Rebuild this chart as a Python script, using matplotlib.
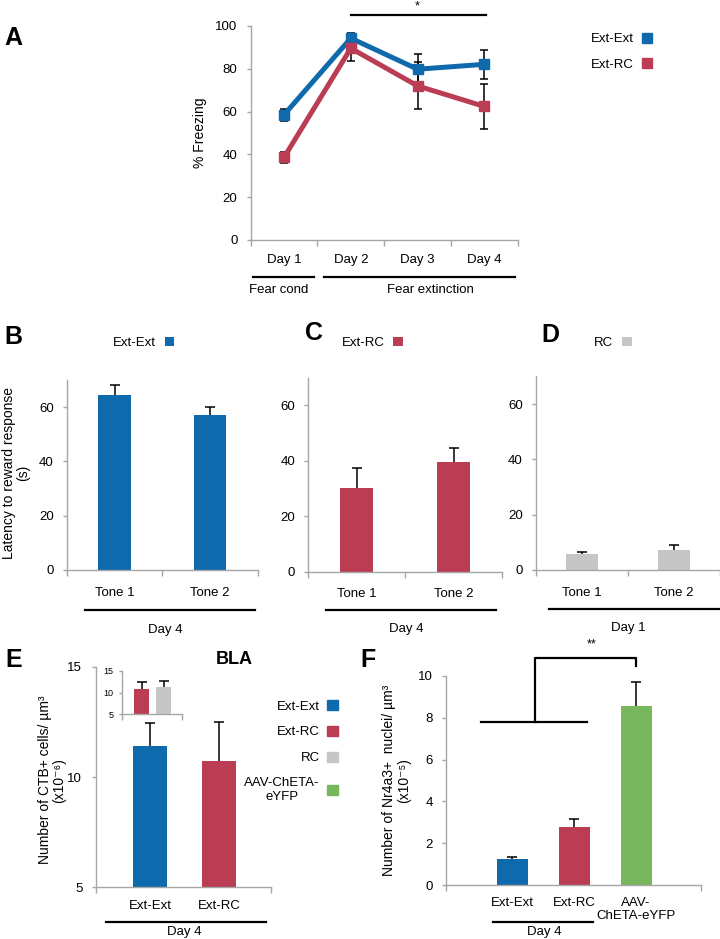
import matplotlib
matplotlib.use("Agg")
import matplotlib.pyplot as plt
import matplotlib.transforms as mtransforms
from matplotlib.lines import Line2D
from matplotlib.patches import Patch
import numpy as np

# ---- data ----
days = ["Day 1", "Day 2", "Day 3", "Day 4"]
frz_extext = [58.5, 94.3, 79.8, 82.1]
frz_extext_err = [2.7, 2.6, 7.0, 6.8]
frz_extrc = [38.6, 89.6, 72.0, 62.4]
frz_extrc_err = [2.6, 5.8, 11.0, 10.4]

tones = ["Tone 1", "Tone 2"]
lat_extext = [64.6, 57.1]
lat_extext_err = [3.4, 2.9]
lat_extrc = [30.1, 39.7]
lat_extrc_err = [7.4, 4.8]
lat_rc = [5.8, 7.3]
lat_rc_err = [0.6, 1.6]

ctb_groups = ["Ext-Ext", "Ext-RC"]
ctb_vals = [11.42, 10.72]
ctb_err = [1.01, 1.76]
inset_vals = [10.85, 11.3]
inset_err = [1.65, 1.4]

nr4_groups = ["Ext-Ext", "Ext-RC", "AAV-\nChETA-eYFP"]
nr4_vals = [1.24, 2.79, 8.58]
nr4_err = [0.11, 0.37, 1.15]

BLUE = "#0F6AAD"
RED = "#BA3D54"
GREY = "#C6C6C6"
GREEN = "#78B75E"
AXC = "#A6A6A6"

REG = ["Liberation Sans", "DejaVu Sans"]
plt.rcParams["font.family"] = REG

FS = 9.5  # tick / legend text

W, H = 720, 939
fig = plt.figure(figsize=(7.2, 9.39), dpi=100)


def box(l, t, r, b):
    return [l / W, 1 - b / H, (r - l) / W, (b - t) / H]


def style(ax, yticks, bounds, fs=FS, xpad=6):
    for s in ["top", "right"]:
        ax.spines[s].set_visible(False)
    for s in ["left", "bottom"]:
        ax.spines[s].set_color(AXC)
        ax.spines[s].set_linewidth(1.0)
    ax.set_yticks(yticks)
    ax.tick_params(axis="y", direction="out", length=3, width=1, color=AXC,
                   pad=6.5, labelsize=fs)
    ax.tick_params(axis="x", which="major", length=0, pad=xpad, labelsize=FS)
    ax.set_xticks(bounds, minor=True)
    ax.tick_params(axis="x", which="minor", direction="out", length=4,
                   width=1, color=AXC)


def up_err(ax, x, y, e):
    _, caps, _ = ax.errorbar(x, y, yerr=[np.zeros(len(e)), e], fmt="none",
                             ecolor="black", elinewidth=1.1, capsize=3.5,
                             capthick=1.1, zorder=4)
    caps[0].set_visible(False)


def under(ax, x0, x1, yl, text, xt, yt):
    tr = mtransforms.blended_transform_factory(ax.transData, ax.transAxes)
    ax.plot([x0, x1], [yl, yl], color="black", lw=1.6, transform=tr,
            clip_on=False)
    ax.text(xt, yt, text, transform=tr, ha="center", va="center",
            fontsize=FS)


def panel(x, y, s):
    fig.text(x / W, 1 - y / H, s, fontsize=18, fontweight="bold",
             ha="left", va="center")


# ---- A: freezing ----
axA = fig.add_axes(box(250.6, 26, 517.8, 240))
xd = np.arange(1, len(days) + 1)
axA.errorbar(xd, frz_extext, yerr=frz_extext_err, color=BLUE, lw=3.6,
             marker="s", ms=7.5, ecolor="black", elinewidth=1.1, capsize=3,
             capthick=1.1, label="Ext-Ext", zorder=3)
axA.errorbar(xd, frz_extrc, yerr=frz_extrc_err, color=RED, lw=3.6,
             marker="s", ms=7.5, ecolor="black", elinewidth=1.1, capsize=3,
             capthick=1.1, label="Ext-RC", zorder=3)
axA.set_xlim(0.5, 4.5)
axA.set_ylim(0, 100)
axA.set_xticks(xd)
axA.set_xticklabels(days)
style(axA, np.arange(0, 101, 20), np.arange(0.5, 5, 1), xpad=10)
axA.set_ylabel("% Freezing", fontsize=10)
axA.yaxis.set_label_coords(-0.163, 0.5)
axA.plot([2, 4.03], [105.1, 105.1], color="black", lw=1.6, clip_on=False)
axA.text(3, 106.2, "*", ha="center", va="bottom", fontsize=9)
under(axA, 0.536, 1.449, -0.1715, "Fear cond", 0.925, -0.234)
under(axA, 1.599, 4.458, -0.1715, "Fear extinction", 3.186, -0.234)
hA = [Line2D([], [], color=BLUE, marker="s", ls="none", ms=7.5),
      Line2D([], [], color=RED, marker="s", ls="none", ms=7.5)]
axA.legend(hA, ["Ext-Ext", "Ext-RC"], loc="center right",
           bbox_to_anchor=(653 / W, 1 - 52 / H), bbox_transform=fig.transFigure,
           frameon=False, markerfirst=False, fontsize=FS, handlelength=0.9,
           handletextpad=0.55, labelspacing=1.0, borderpad=0, borderaxespad=0)


# ---- B, C, D: latency ----
def latency(rect, vals, errs, color, label, leg_x, line, day):
    ax = fig.add_axes(box(*rect))
    xt = np.arange(1, len(tones) + 1)
    ax.bar(xt, vals, width=0.34, color=color, label=label, zorder=2)
    up_err(ax, xt, vals, errs)
    ax.set_xlim(0.5, 2.5)
    ax.set_ylim(0, 70)
    ax.set_xticks(xt)
    ax.set_xticklabels(tones)
    style(ax, np.arange(0, 61, 20), [0.5, 1.5, 2.5], xpad=12)
    ax.legend(loc="center left", bbox_to_anchor=(leg_x / W, 1 - 343 / H),
              bbox_transform=fig.transFigure, frameon=False, markerfirst=False,
              fontsize=FS, handlelength=0.75, handleheight=0.75,
              handletextpad=0.65, borderpad=0, borderaxespad=0)
    under(ax, line[0], line[1], line[2], day, line[3], line[4])
    return ax


axB = latency((67, 380, 257.5, 570), lat_extext, lat_extext_err, BLUE,
              "Ext-Ext", 113, (0.684, 2.474, -0.2105, 1.529, -0.316), "Day 4")
axB.set_ylabel("Latency to reward response\n(s)", fontsize=10,
               linespacing=1.0)
axB.yaxis.set_label_coords(-0.195, 0.51)
latency((308.3, 377.6, 502, 571.7), lat_extrc, lat_extrc_err, RED,
        "Ext-RC", 341.5, (0.683, 2.438, -0.197, 1.509, -0.295), "Day 4")
latency((536, 376.4, 720, 570), lat_rc, lat_rc_err, GREY,
        "RC", 594, (0.641, 2.5, -0.2015, 1.507, -0.30), "Day 1")

# ---- E: CTB ----
axE = fig.add_axes(box(95.5, 666.7, 271.4, 887.3))
xe = np.arange(1, len(ctb_groups) + 1)
axE.bar(xe, np.array(ctb_vals) - 5, bottom=5, width=0.5,
        color=[BLUE, RED], zorder=2)
up_err(axE, xe, ctb_vals, ctb_err)
axE.set_xlim(0.21, 2.76)
axE.set_ylim(5, 15)
axE.set_xticks(xe)
axE.set_xticklabels(ctb_groups)
style(axE, [5, 10, 15], [0.21, 2.76], xpad=9)
axE.set_ylabel("Number of CTB+ cells/ µm³\n(x10⁻⁶)",
               fontsize=10, linespacing=1.0)
axE.yaxis.set_label_coords(-0.168, 0.486)
under(axE, 0.362, 2.681, -0.156, "Day 4", 1.49, -0.2026)
fig.text(234.5 / W, 1 - 660 / H, "BLA", fontsize=13,
         fontweight="bold", ha="center", va="center")

axI = fig.add_axes(box(121.7, 670.7, 182, 714.3))
axI.bar(xe, np.array(inset_vals) - 5, bottom=5, width=0.68,
        color=[RED, GREY], zorder=2)
up_err(axI, xe, inset_vals, inset_err)
axI.set_xlim(0.1, 2.84)
axI.set_ylim(5, 15)
axI.set_xticks([])
style(axI, [5, 10, 15], [0.1, 2.84], fs=6.5)
axI.tick_params(axis="y", pad=4, length=2)
axI.patch.set_alpha(0)

hE = [Patch(color=BLUE), Patch(color=RED), Patch(color=GREY), Patch(color=GREEN)]
legE = axE.legend(hE, ["Ext-Ext", "Ext-RC", "RC", "AAV-ChETA-\neYFP"],
                  loc="upper right", bbox_to_anchor=(338 / W, 1 - 700 / H),
                  bbox_transform=fig.transFigure, frameon=False,
                  markerfirst=False, fontsize=FS, handlelength=0.8,
                  handleheight=0.8, handletextpad=0.6, labelspacing=1.0,
                  borderpad=0, borderaxespad=0)
for t in legE.get_texts():
    t.set_multialignment("center")

# ---- F: Nr4a3 ----
axF = fig.add_axes(box(445.8, 676, 700.6, 885))
xf = np.arange(len(nr4_groups))
axF.bar(xf, nr4_vals, width=0.5, color=[BLUE, RED, GREEN], zorder=2)
up_err(axF, xf, nr4_vals, nr4_err)
axF.set_xlim(-1.068, 3.04)
axF.set_ylim(0, 10)
axF.set_xticks(xf)
axF.set_xticklabels(nr4_groups, linespacing=1.05)
style(axF, np.arange(0, 11, 2), [-1.068, 3.04], xpad=9)
axF.set_ylabel("Number of Nr4a3+  nuclei/ µm³\n(x10⁻⁵)",
               fontsize=10, linespacing=1.1)
axF.yaxis.set_label_coords(-0.136, 0.50)
under(axF, -0.306, 1.3, -0.1756, "Day 4", 0.526, -0.225)
axF.plot([-0.5, 1.21], [7.81, 7.81], color="black", lw=1.6, clip_on=False)
axF.plot([0.363, 0.363, 2, 2], [7.81, 10.88, 10.88, 10.49], color="black",
         lw=1.6, clip_on=False)
axF.text(1.285, 11.2, "**", ha="center", va="bottom", fontsize=9)

panel(4.6, 38, "A")
panel(4.6, 337, "B")
panel(305.5, 333, "C")
panel(541, 335, "D")
panel(5.5, 660, "E")
panel(360, 660, "F")

fig.savefig("out.png", dpi=100)
